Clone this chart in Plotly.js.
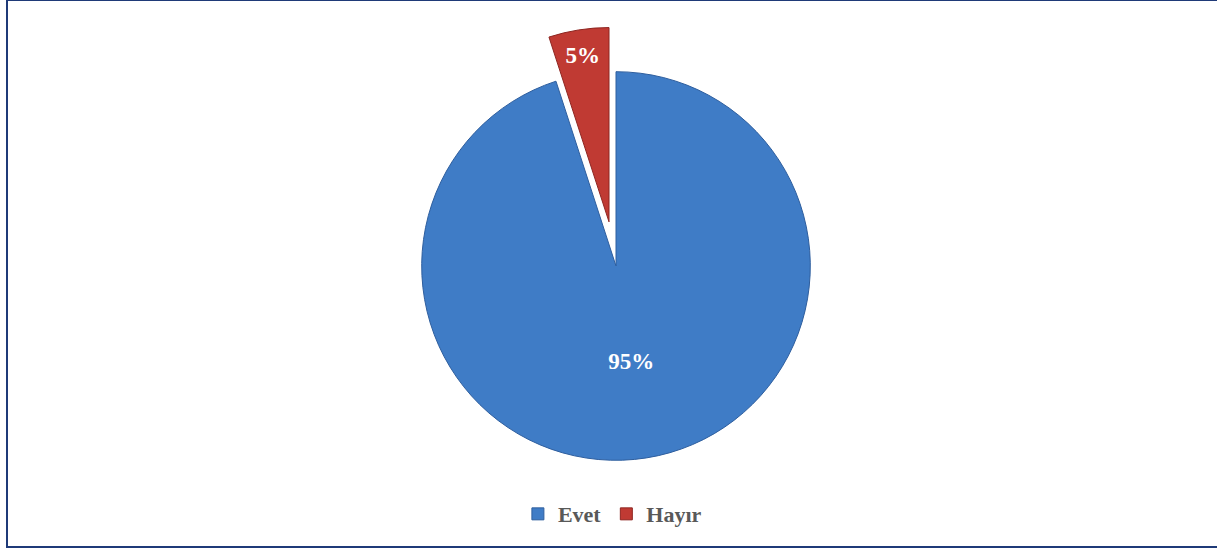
<!DOCTYPE html>
<html>
<head>
<meta charset="utf-8">
<script src="https://cdn.plot.ly/plotly-3.0.1.min.js"></script>
<style>
  html, body { margin: 0; padding: 0; background: #ffffff; overflow: hidden; }
  #chart { position: absolute; left: 0; top: 0; width: 1217px; height: 549px; }
  #frame { position: absolute; left: 6px; top: -1px; width: 1220px; height: 549px;
           border: 2px solid #1F3A78; box-sizing: border-box; pointer-events: none; }
</style>
</head>
<body>
<div id="chart"></div>
<div id="frame"></div>
<script>
const categories = ["Evet", "Hayır"];
const values = [95, 5];
const colors = ["#3F7CC6", "#C03A33"];
const lineColors = ["#2E5E9E", "#8E2520"];
const pulls = [0, 0.23];

const trace = {
  type: "pie",
  labels: categories,
  values: values,
  sort: false,
  direction: "clockwise",
  rotation: 0,
  pull: pulls,
  marker: { colors: colors, line: { color: lineColors, width: 1 } },
  textinfo: "percent",
  texttemplate: "%{percent:.0%}",
  textposition: "inside",
  insidetextorientation: "horizontal",
  textfont: { family: "Liberation Serif, Times New Roman, serif", size: 23, color: "#ffffff", weight: "bold" },
  hoverinfo: "label+percent",
  showlegend: true
};

const layout = {
  width: 1217,
  height: 549,
  margin: { l: 15, r: 0, t: 27, b: 44 },
  paper_bgcolor: "#ffffff",
  plot_bgcolor: "#ffffff",
  uniformtext: { mode: "show", minsize: 23 },
  legend: {
    orientation: "h",
    x: 0.497, xanchor: "center",
    y: 0.025, yanchor: "top",
    font: { family: "Liberation Serif, Times New Roman, serif", size: 22, color: "#595959", weight: "bold" },
    itemwidth: 30,
    traceorder: "normal"
  }
};

Plotly.newPlot("chart", [trace], layout, { displayModeBar: false, staticPlot: true });
</script>
</body>
</html>
